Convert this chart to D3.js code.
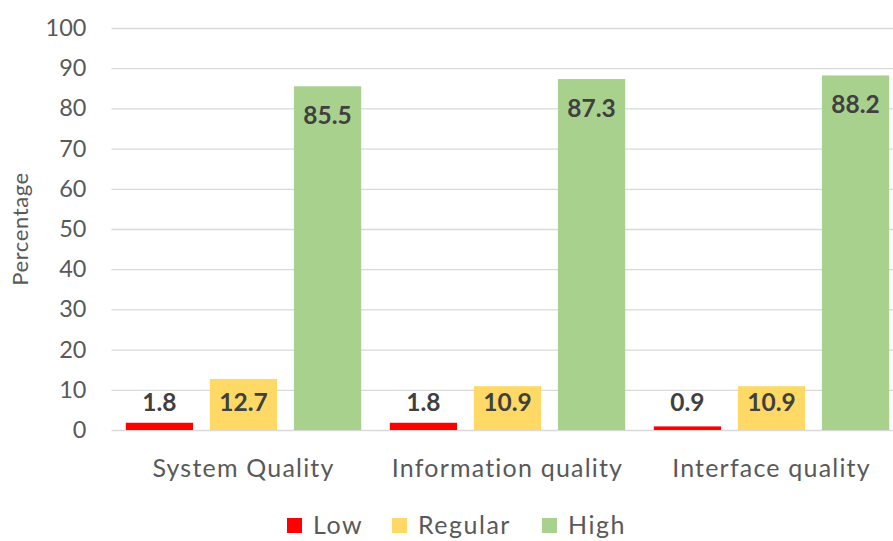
<!DOCTYPE html>
<html>
<head>
<meta charset="utf-8">
<script src="https://cdn.jsdelivr.net/npm/d3@7"></script>
<style>
  html, body { margin: 0; padding: 0; background: #fff; overflow: hidden; }
  svg { display: block; font-family: Lato, "Open Sans", sans-serif; }
</style>
</head>
<body>
<svg id="chart" width="893" height="541"></svg>
<script>
// Survey ratings per quality dimension (percent of respondents)
const categories = ["System Quality", "Information quality", "Interface quality"];
const seriesNames = ["Low", "Regular", "High"];
const lowValues = [1.8, 1.8, 0.9];
const regularValues = [12.7, 10.9, 10.9];
const highValues = [85.5, 87.3, 88.2];
const yTicks = [0, 10, 20, 30, 40, 50, 60, 70, 80, 90, 100];
const seriesColors = ["#FF0000", "#FFD966", "#A9D18E"];

const seriesValues = [lowValues, regularValues, highValues];

const svg = d3.select("#chart");

// Plot area runs past the right edge, as the chart is cut off there
const plot = { left: 111.5, right: 903.5, top: 28, bottom: 430 };

const x0 = d3.scaleBand()
  .domain(categories)
  .range([plot.left, plot.right])
  .paddingInner(0)
  .paddingOuter(0);

const x1 = d3.scaleBand()
  .domain(seriesNames)
  .range([0, x0.bandwidth()])
  .paddingInner(0.2)
  .paddingOuter(0.17);

const y = d3.scaleLinear()
  .domain([0, 100])
  .range([plot.bottom, plot.top]);

// Gridlines and y tick labels
const yAxis = d3.axisLeft(y)
  .tickValues(yTicks)
  .tickSize(-(plot.right - plot.left))
  .tickPadding(25)
  .tickFormat(d3.format("d"));

const gy = svg.append("g")
  .attr("transform", `translate(${plot.left},0)`)
  .call(yAxis);
gy.select(".domain").remove();
gy.selectAll(".tick line").attr("stroke", "#D9D9D9").attr("stroke-width", 1.3);
gy.selectAll(".tick text")
  .attr("fill", "#595959")
  .style("font-size", "23.5px")
  .style("font-family", "Lato, sans-serif");

// Y axis title
svg.append("text")
  .attr("transform", `translate(28, 229) rotate(-90)`)
  .attr("text-anchor", "middle")
  .attr("fill", "#595959")
  .style("font-size", "22px")
  .style("letter-spacing", "0.6px")
  .text("Percentage");

// Bars
const groups = svg.append("g")
  .selectAll("g")
  .data(categories)
  .join("g")
  .attr("transform", d => `translate(${x0(d)},0)`);

const barData = (c, ci) => seriesNames.map((s, si) => ({ series: s, si, value: seriesValues[si][ci] }));

groups.selectAll("rect")
  .data((c, ci) => barData(c, ci))
  .join("rect")
  .attr("x", d => x1(d.series))
  .attr("width", x1.bandwidth())
  .attr("y", d => y(d.value))
  .attr("height", d => y(0) - y(d.value))
  .attr("fill", d => seriesColors[d.si]);

// Value labels: near the top inside the bar, or lifted above short bars
groups.selectAll("text.val")
  .data((c, ci) => barData(c, ci))
  .join("text")
  .attr("class", "val")
  .attr("x", d => x1(d.series) + x1.bandwidth() / 2)
  .attr("y", d => Math.min(y(d.value) + 29, y(0) - 28))
  .attr("dy", "0.36em")
  .attr("text-anchor", "middle")
  .attr("fill", "#404040")
  .style("font-size", "24.5px")
  .style("font-weight", "bold")
  .text(d => d3.format(".1f")(d.value));

// Category labels
svg.append("g")
  .selectAll("text")
  .data(categories)
  .join("text")
  .attr("x", d => x0(d) + x0.bandwidth() / 2)
  .attr("y", 477)
  .attr("text-anchor", "middle")
  .attr("fill", "#595959")
  .style("font-size", "25px")
  .style("letter-spacing", "1.2px")
  .text(d => d);

// Legend
const legendX = [287, 392, 542];
const legend = svg.append("g")
  .selectAll("g")
  .data(seriesNames)
  .join("g")
  .attr("transform", (d, i) => `translate(${legendX[i]}, 518)`);
legend.append("rect")
  .attr("width", 15)
  .attr("height", 15)
  .attr("fill", (d, i) => seriesColors[i]);
legend.append("text")
  .attr("x", 26)
  .attr("y", 16)
  .attr("fill", "#595959")
  .style("font-size", "25px")
  .style("letter-spacing", "1.5px")
  .text(d => d);
</script>
</body>
</html>
